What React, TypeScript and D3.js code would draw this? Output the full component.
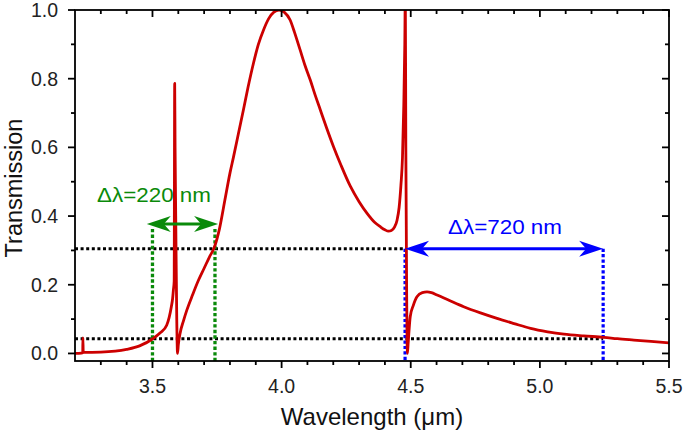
import { useEffect } from 'react'
import { scaleLinear, line, curveMonotoneX } from 'd3'

// transmission spectrum
const wavelength = [
	3.2, 3.225, 3.23, 3.2305, 3.232, 3.3, 3.4, 3.45, 3.5, 3.53, 3.555, 3.573, 3.578, 3.581, 3.584, 3.586,
	3.5875, 3.59, 3.594, 3.597, 3.6, 3.607, 3.62, 3.633, 3.655, 3.678, 3.7, 3.72, 3.74, 3.76, 3.78, 3.8,
	3.814, 3.83, 3.852, 3.87, 3.891, 3.91, 3.93, 3.95, 3.97, 3.99, 4.01, 4.033, 4.05, 4.072, 4.09, 4.111,
	4.13, 4.15, 4.175, 4.201, 4.23, 4.266, 4.3, 4.331, 4.36, 4.382, 4.4, 4.414, 4.425, 4.437, 4.447,
	4.455, 4.462, 4.468, 4.473, 4.477, 4.479, 4.481, 4.484, 4.487, 4.49, 4.498, 4.51, 4.524, 4.545,
	4.563, 4.58, 4.602, 4.65, 4.705, 4.77, 4.834, 4.9, 4.964, 5.03, 5.093, 5.17, 5.248, 5.3, 5.364,
	5.43, 5.5,
]
const transmission = [
	0.0, 0.001, 0.002, 0.045, 0.003, 0.004, 0.012, 0.022, 0.042, 0.06, 0.082, 0.136, 0.16, 0.185, 0.21, 0.786,
	0.6, 0.4, 0.1, 0.0, 0.025, 0.059, 0.095, 0.126, 0.17, 0.213, 0.248, 0.28, 0.31, 0.365, 0.445, 0.525,
	0.573, 0.63, 0.709, 0.775, 0.845, 0.9, 0.942, 0.975, 0.994, 1.0, 0.994, 0.971, 0.935, 0.883, 0.84, 0.796,
	0.752, 0.709, 0.655, 0.602, 0.548, 0.487, 0.442, 0.408, 0.382, 0.369, 0.36, 0.356, 0.358, 0.368, 0.388,
	0.425, 0.49, 0.57, 0.72, 0.9, 1.05, 0.6, 0.2, 0.0, 0.03, 0.107, 0.14, 0.165, 0.177,
	0.179, 0.177, 0.17, 0.154, 0.136, 0.118, 0.102, 0.087, 0.073, 0.063, 0.056, 0.051, 0.047, 0.043, 0.039,
	0.035, 0.031,
]

const xMajor = [3.5, 4.0, 4.5, 5.0, 5.5]
const xMinor = [3.3, 3.4, 3.6, 3.7, 3.8, 3.9, 4.1, 4.2, 4.3, 4.4, 4.6, 4.7, 4.8, 4.9, 5.1, 5.2, 5.3, 5.4]
const yMajor = [0.0, 0.2, 0.4, 0.6, 0.8, 1.0]
const yMinor = [0.1, 0.3, 0.5, 0.7, 0.9]

// reference levels and bandwidth markers
const levelLow = 0.0425
const levelHigh = 0.305
const greenBand = [3.5, 3.742]
const greenArrow = [3.478, 3.754]
const greenArrowY = 0.377
const blueBand = [4.478, 5.245]

const W = 685
const H = 436
const M = { left: 75, right: 669, top: 10, bottom: 361 }
const font = "'Liberation Sans', Arial, sans-serif"

function ArrowHead({ x, y, dir, color }: { x: number; y: number; dir: 1 | -1; color: string }) {
	const L = 24
	const w = 8
	const n = 7
	const d = `M${x},${y} L${x - dir * L},${y - w} L${x - dir * (L - n)},${y} L${x - dir * L},${y + w} Z`
	return <path d={d} fill={color} stroke='none' />
}

export default function App() {
	useEffect(() => {
		document.body.style.margin = '0'
	}, [])

	const x = scaleLinear().domain([3.2, 5.5]).range([M.left, M.right])
	const y = scaleLinear().domain([-0.022, 1.0]).range([M.bottom, M.top])

	const pts = wavelength.map((w, i) => [w, transmission[i]] as [number, number])
	const path = line<[number, number]>()
		.x((d) => x(d[0]))
		.y((d) => y(d[1]))
		.curve(curveMonotoneX)(pts)

	const majorLen = 7
	const minorLen = 4
	const green = '#0a8a0a'
	const blue = '#0000ff'

	return (
		<svg width={W} height={H} style={{ display: 'block', background: '#fff' }}>
			<defs>
				<clipPath id='plot'>
					<rect x={M.left} y={M.top} width={M.right - M.left} height={M.bottom - M.top} />
				</clipPath>
			</defs>

			{/* black dotted reference levels */}
			<line x1={M.left} x2={x(blueBand[1])} y1={y(levelLow)} y2={y(levelLow)} stroke='#000' strokeWidth={3} strokeDasharray='3 2.6' />
			<line x1={M.left} x2={x(blueBand[0])} y1={y(levelHigh)} y2={y(levelHigh)} stroke='#000' strokeWidth={3} strokeDasharray='3 2.6' />

			{/* green band */}
			{greenBand.map((g, i) => (
				<line key={i} x1={x(g)} x2={x(g)} y1={y(greenArrowY) + 5} y2={M.bottom} stroke={green} strokeWidth={3.3} strokeDasharray='3.4 2.2' />
			))}
			{/* blue band */}
			{blueBand.map((b, i) => (
				<line key={i} x1={x(b)} x2={x(b)} y1={y(levelHigh)} y2={M.bottom} stroke={blue} strokeWidth={3.2} strokeDasharray='3.2 2.2' />
			))}

			{/* curve */}
			<path d={path ?? ''} fill='none' stroke='#cc0000' strokeWidth={2.8} strokeLinejoin='round' clipPath='url(#plot)' />

			{/* green arrow */}
			<line x1={x(greenArrow[0]) + 10} x2={x(greenArrow[1]) - 10} y1={y(greenArrowY)} y2={y(greenArrowY)} stroke={green} strokeWidth={3} />
			<ArrowHead x={x(greenArrow[0])} y={y(greenArrowY)} dir={-1} color={green} />
			<ArrowHead x={x(greenArrow[1])} y={y(greenArrowY)} dir={1} color={green} />
			<text x={97} y={202} fontFamily={font} fontSize={21} fill={green} textLength={114} lengthAdjust='spacingAndGlyphs'>
				Δλ=220 nm
			</text>

			{/* blue arrow */}
			<line x1={x(blueBand[0]) + 10} x2={x(blueBand[1]) - 10} y1={y(levelHigh)} y2={y(levelHigh)} stroke={blue} strokeWidth={3} />
			<ArrowHead x={x(blueBand[0])} y={y(levelHigh)} dir={-1} color={blue} />
			<ArrowHead x={x(blueBand[1])} y={y(levelHigh)} dir={1} color={blue} />
			<text x={448} y={234} fontFamily={font} fontSize={21} fill={blue} textLength={114} lengthAdjust='spacingAndGlyphs'>
				Δλ=720 nm
			</text>

			{/* frame */}
			<rect x={M.left} y={M.top} width={M.right - M.left} height={M.bottom - M.top} fill='none' stroke='#000' strokeWidth={1.8} />

			{/* x ticks: bottom outward, top inward */}
			{xMajor.map((t) => (
				<g key={`xM${t}`}>
					<line x1={x(t)} x2={x(t)} y1={M.bottom} y2={M.bottom + majorLen} stroke='#000' strokeWidth={1.8} />
					<line x1={x(t)} x2={x(t)} y1={M.top} y2={M.top + majorLen} stroke='#000' strokeWidth={1.8} />
					<text x={x(t)} y={393} textAnchor='middle' fontFamily={font} fontSize={19.5} fill='#222'>
						{t.toFixed(1)}
					</text>
				</g>
			))}
			{xMinor.map((t) => (
				<g key={`xm${t}`}>
					<line x1={x(t)} x2={x(t)} y1={M.bottom} y2={M.bottom + minorLen} stroke='#000' strokeWidth={1.8} />
					<line x1={x(t)} x2={x(t)} y1={M.top} y2={M.top + minorLen} stroke='#000' strokeWidth={1.8} />
				</g>
			))}

			{/* y ticks: left outward, right inward */}
			{yMajor.map((t) => (
				<g key={`yM${t}`}>
					<line x1={M.left - majorLen} x2={M.left} y1={y(t)} y2={y(t)} stroke='#000' strokeWidth={1.8} />
					<line x1={M.right - majorLen} x2={M.right} y1={y(t)} y2={y(t)} stroke='#000' strokeWidth={1.8} />
					<text x={58} y={y(t)} dy='0.35em' textAnchor='end' fontFamily={font} fontSize={19.5} fill='#222'>
						{t.toFixed(1)}
					</text>
				</g>
			))}
			{yMinor.map((t) => (
				<g key={`ym${t}`}>
					<line x1={M.left - minorLen} x2={M.left} y1={y(t)} y2={y(t)} stroke='#000' strokeWidth={1.8} />
					<line x1={M.right - minorLen} x2={M.right} y1={y(t)} y2={y(t)} stroke='#000' strokeWidth={1.8} />
				</g>
			))}

			{/* axis titles */}
			<text x={372} y={425} textAnchor='middle' fontFamily={font} fontSize={24} fill='#111'>
				Wavelength (μm)
			</text>
			<text transform='translate(22,188) rotate(-90)' textAnchor='middle' fontFamily={font} fontSize={23.5} fill='#111'>
				Transmission
			</text>
		</svg>
	)
}
